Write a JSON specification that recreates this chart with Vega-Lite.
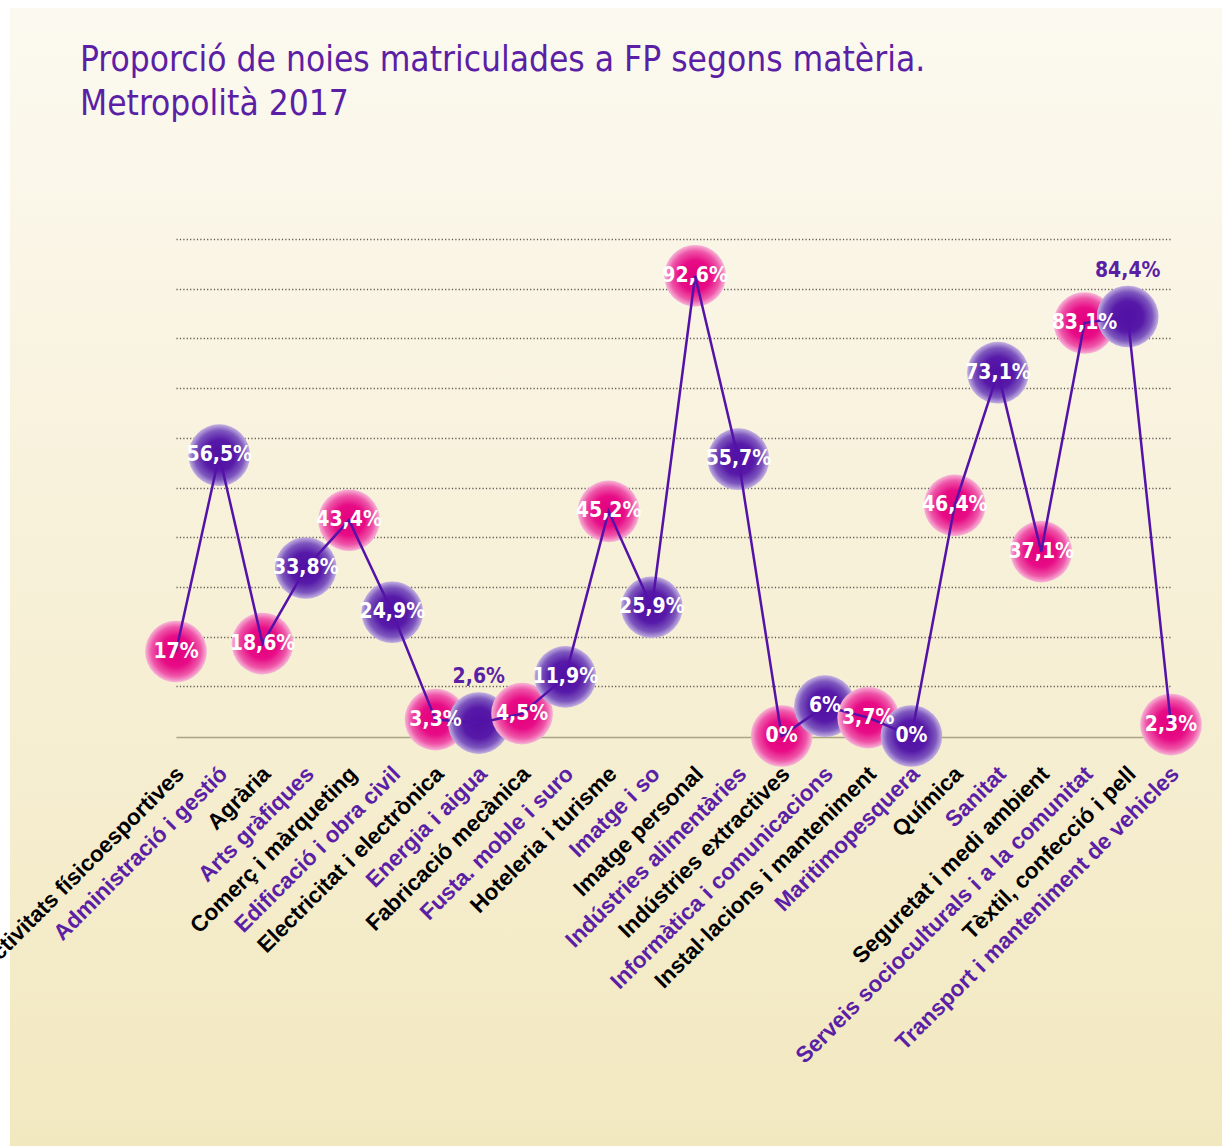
{
  "$schema": "https://vega.github.io/schema/vega-lite/v6.json",
  "width": 1212,
  "height": 1138,
  "autosize": {"type": "none"},
  "padding": {"left": 10, "top": 8, "right": 4, "bottom": 0},
  "background": "white",
  "config": {
    "view": {
      "stroke": null,
      "fill": {
        "gradient": "linear",
        "x1": 0, "y1": 0, "x2": 0, "y2": 1,
        "stops": [
          {"offset": 0, "color": "#fcf9f0"},
          {"offset": 1, "color": "#f2e8c0"}
        ]
      }
    },
    "locale": {"number": {"decimal": ",", "thousands": ".", "grouping": [3], "currency": ["", " €"]}}
  },
  "title": {
    "text": ["Proporció de noies matriculades a FP segons matèria.", "Metropolità 2017"],
    "anchor": "start",
    "frame": "group",
    "orient": "top",
    "offset": -114,
    "dx": 70,
    "font": "Liberation Sans Narrow, DejaVu Sans Condensed, Liberation Sans",
    "fontSize": 35,
    "fontWeight": "normal",
    "color": "#5b1fa6",
    "lineHeight": 44
  },
  "datasets": {
    "fp": [
      {"materia": "Activitats físicoesportives", "valor": 0.17},
      {"materia": "Administració i gestió", "valor": 0.565},
      {"materia": "Agrària", "valor": 0.186},
      {"materia": "Arts gràfiques", "valor": 0.338},
      {"materia": "Comerç i màrqueting", "valor": 0.434},
      {"materia": "Edificació i obra civil", "valor": 0.249},
      {"materia": "Electricitat i electrònica", "valor": 0.033},
      {"materia": "Energia i aigua", "valor": 0.026},
      {"materia": "Fabricació mecànica", "valor": 0.045},
      {"materia": "Fusta. moble i suro", "valor": 0.119},
      {"materia": "Hoteleria i turisme", "valor": 0.452},
      {"materia": "Imatge i so", "valor": 0.259},
      {"materia": "Imatge personal", "valor": 0.926},
      {"materia": "Indústries alimentàries", "valor": 0.557},
      {"materia": "Indústries extractives", "valor": 0},
      {"materia": "Informàtica i comunicacions", "valor": 0.06},
      {"materia": "Instal·lacions i manteniment", "valor": 0.037},
      {"materia": "Maritimopesquera", "valor": 0},
      {"materia": "Química", "valor": 0.464},
      {"materia": "Sanitat", "valor": 0.731},
      {"materia": "Seguretat i medi ambient", "valor": 0.371},
      {"materia": "Serveis socioculturals i a la comunitat", "valor": 0.831},
      {"materia": "Tèxtil, confecció i pell", "valor": 0.844},
      {"materia": "Transport i manteniment de vehicles", "valor": 0.023}
    ]
  },
  "data": {"name": "fp"},
  "encoding": {
    "x": {
      "field": "materia",
      "type": "nominal",
      "sort": null,
      "scale": {"type": "point", "range": [166, 1161], "padding": 0},
      "axis": {
        "title": null,
        "offset": -409,
        "ticks": false,
        "grid": false,
        "domain": true,
        "domainColor": "#aca584",
        "domainWidth": 1.5,
        "labelAngle": -45,
        "labelAlign": "right",
        "labelBaseline": "middle",
        "labelPadding": 33,
        "labelOffset": 4,
        "labelFont": "Liberation Sans",
        "labelFontWeight": "bold",
        "labelFontSize": 22.5,
        "labelLimit": 600,
        "labelOverlap": false,
        "labelColor": {
          "condition": {
            "test": "indexof(['Administració i gestió','Arts gràfiques','Edificació i obra civil','Energia i aigua','Fusta. moble i suro','Imatge i so','Indústries alimentàries','Informàtica i comunicacions','Maritimopesquera','Sanitat','Serveis socioculturals i a la comunitat','Transport i manteniment de vehicles'], datum.value) >= 0",
            "value": "#5b1fa6"
          },
          "value": "#000000"
        }
      }
    },
    "y": {
      "field": "valor",
      "type": "quantitative",
      "scale": {"domain": [0, 1], "range": [728, 231]},
      "axis": {
        "title": null,
        "values": [0.1, 0.2, 0.3, 0.4, 0.5, 0.6, 0.7, 0.8, 0.9, 1],
        "labels": false,
        "ticks": false,
        "domain": false,
        "grid": true,
        "gridColor": "#5e5950",
        "gridDash": [1.2, 2.2],
        "gridWidth": 1.3
      }
    }
  },
  "layer": [
    {
      "mark": {"type": "point", "shape": "circle", "filled": true, "size": 3800, "opacity": 1, "strokeWidth": 0},
      "encoding": {
        "fill": {
          "condition": {
            "test": "indexof(['Administració i gestió','Arts gràfiques','Edificació i obra civil','Energia i aigua','Fusta. moble i suro','Imatge i so','Indústries alimentàries','Informàtica i comunicacions','Maritimopesquera','Sanitat','Tèxtil, confecció i pell'], datum.materia) >= 0",
            "value": {
              "gradient": "radial",
              "x1": 0.5, "y1": 0.5, "r1": 0, "x2": 0.5, "y2": 0.5, "r2": 0.5,
              "stops": [
                {"offset": 0, "color": "#5010a4"},
                {"offset": 0.5, "color": "#5719a8"},
                {"offset": 0.8, "color": "#7c56bd"},
                {"offset": 1, "color": "#c4b1e1"}
              ]
            }
          },
          "value": {
            "gradient": "radial",
            "x1": 0.5, "y1": 0.5, "r1": 0, "x2": 0.5, "y2": 0.5, "r2": 0.5,
            "stops": [
              {"offset": 0, "color": "#e3007c"},
              {"offset": 0.5, "color": "#e70c86"},
              {"offset": 0.8, "color": "#ee55a8"},
              {"offset": 1, "color": "#f7b6d7"}
            ]
          }
        }
      }
    },
    {
      "mark": {"type": "line", "stroke": "#5412a8", "strokeWidth": 2.5}
    },
    {
      "transform": [{"filter": "datum.materia !== 'Energia i aigua' && datum.materia !== 'Tèxtil, confecció i pell'"}],
      "mark": {
        "type": "text",
        "font": "Liberation Sans Narrow, DejaVu Sans Condensed, Liberation Sans",
        "fontWeight": "bold",
        "fontSize": 21,
        "color": "#ffffff",
        "align": "center",
        "baseline": "middle"
      },
      "encoding": {"text": {"field": "valor", "type": "quantitative", "format": ".1~%"}}
    },
    {
      "transform": [{"filter": "datum.materia === 'Energia i aigua' || datum.materia === 'Tèxtil, confecció i pell'"}],
      "mark": {
        "type": "text",
        "font": "Liberation Sans Narrow, DejaVu Sans Condensed, Liberation Sans",
        "fontWeight": "bold",
        "fontSize": 21,
        "color": "#5b1fa6",
        "align": "center",
        "baseline": "middle",
        "dy": -46
      },
      "encoding": {"text": {"field": "valor", "type": "quantitative", "format": ".1~%"}}
    }
  ]
}
